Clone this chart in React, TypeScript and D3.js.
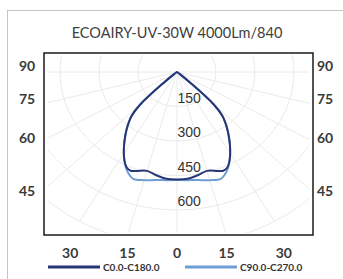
import React, { useEffect, useRef } from "react";
import * as d3 from "d3";

// photometric data, cd/klm, gamma measured from nadir
const title = "ECOAIRY-UV-30W 4000Lm/840";
const gammaAngles = [0, 5, 10, 15, 20, 22.5, 25, 27.5, 30, 32.5, 35, 37.5, 40, 42.5, 45, 47.5, 50, 55, 60, 65, 70, 75, 80, 85, 90];
const c0c180 = [467, 466, 456, 445, 458, 465, 458, 437, 409, 379, 349, 320, 290, 258, 200, 72, 16, 4, 2, 1, 1, 0, 0, 0, 0];
const c90c270 = [470, 472, 477, 487, 494, 482, 463, 437, 409, 379, 349, 320, 290, 258, 200, 72, 16, 4, 2, 1, 1, 0, 0, 0, 0];
const seriesNames = ["C0.0-C180.0", "C90.0-C270.0"];
const seriesColors = ["#283675", "#6d9fd4"];

const ringValues = [150, 300, 450, 600, 750];
const ringLabels = ["150", "300", "450", "600"];
const spokeAngles = [-90, -75, -60, -45, -30, -15, 0, 15, 30, 45, 60, 75, 90];
const sideLabels = ["90", "75", "60", "45"];
const bottomLabels = ["30", "15", "0", "15", "30"];
const bottomAngles = [-30, -15, 0, 15, 30];

const W = 343;
const H = 279;

const Chart = () => {
  const svgRef = useRef(null);

  useEffect(() => {
    const svg = d3.select(svgRef.current);
    svg.selectAll("*").remove();

    const box = { left: 44, top: 53, right: 313, bottom: 235 };
    const cx = 177,
      cy = 72;
    const rad = (a) => (a * Math.PI) / 180;

    const xs = d3.scaleLinear().domain([-750, 750]).range([cx - 750 * 0.26, cx + 750 * 0.26]);
    const ys = d3.scaleLinear().domain([-750, 750]).range([cy - 750 * 0.23, cy + 750 * 0.23]);

    // outer frame
    svg
      .append("rect")
      .attr("x", 7.5)
      .attr("y", 10.5)
      .attr("width", 360)
      .attr("height", 300)
      .attr("fill", "#fff")
      .attr("stroke", "#c4c4c4");

    svg
      .append("text")
      .attr("x", cx)
      .attr("y", 38)
      .attr("text-anchor", "middle")
      .attr("font-family", "Lato, sans-serif")
      .attr("font-size", 14.5)
      .attr("fill", "#404040")
      .text(title);

    svg
      .append("clipPath")
      .attr("id", "plotclip")
      .append("rect")
      .attr("x", box.left + 4)
      .attr("y", box.top + 2)
      .attr("width", box.right - box.left - 8)
      .attr("height", box.bottom - box.top - 4);

    const grid = svg.append("g").attr("clip-path", "url(#plotclip)");

    grid
      .selectAll(".ring")
      .data(ringValues)
      .enter()
      .append("ellipse")
      .attr("cx", cx)
      .attr("cy", cy)
      .attr("rx", (d) => xs(d) - cx)
      .attr("ry", (d) => ys(d) - cy)
      .attr("fill", "none")
      .attr("stroke", "#eaeaea");

    grid
      .selectAll(".spoke")
      .data(spokeAngles)
      .enter()
      .append("line")
      .attr("x1", cx)
      .attr("y1", cy)
      .attr("x2", (d) => xs(750 * Math.sin(rad(d))))
      .attr("y2", (d) => ys(750 * Math.cos(rad(d))))
      .attr("stroke", "#eaeaea");

    const toPoints = (vals) => {
      const pts = [];
      for (let i = gammaAngles.length - 1; i >= 0; i--) {
        const g = rad(gammaAngles[i]);
        pts.push([xs(-vals[i] * Math.sin(g)), ys(vals[i] * Math.cos(g))]);
      }
      for (let i = 1; i < gammaAngles.length; i++) {
        const g = rad(gammaAngles[i]);
        pts.push([xs(vals[i] * Math.sin(g)), ys(vals[i] * Math.cos(g))]);
      }
      return pts;
    };

    const line = d3.line().curve(d3.curveCatmullRom.alpha(0.5));

    grid
      .selectAll(".curve")
      .data([c90c270, c0c180])
      .enter()
      .append("path")
      .attr("d", (d) => line(toPoints(d)))
      .attr("fill", "none")
      .attr("stroke", (d, i) => (i === 0 ? seriesColors[1] : seriesColors[0]))
      .attr("stroke-width", 2)
      .attr("stroke-linejoin", "round");

    // ring labels
    svg
      .selectAll(".ringlabel")
      .data(ringLabels)
      .enter()
      .append("text")
      .attr("x", cx + 0.5)
      .attr("y", (d, i) => ys(ringValues[i]) - 4)
      .attr("font-family", "'Liberation Sans', Arial, sans-serif")
      .attr("font-size", 14)
      .attr("fill", "#333")
      .text((d) => d);

    svg
      .append("rect")
      .attr("x", box.left)
      .attr("y", box.top)
      .attr("width", box.right - box.left)
      .attr("height", box.bottom - box.top)
      .attr("fill", "none")
      .attr("stroke", "#1a1a1a")
      .attr("stroke-width", 1.5);

    // side angle labels
    const sideY = (a) => cy - 6 + 125 / Math.tan(rad(+a));
    [27, 325].forEach((x) => {
      svg
        .selectAll(null)
        .data(sideLabels)
        .enter()
        .append("text")
        .attr("x", x)
        .attr("y", (d) => sideY(d) + 5)
        .attr("text-anchor", "middle")
        .attr("font-family", "Lato, sans-serif")
        .attr("font-size", 14)
        .attr("font-weight", 700)
        .attr("fill", "#3a3a3a")
        .text((d) => d);
    });

    svg
      .selectAll(".bottomlabel")
      .data(bottomLabels)
      .enter()
      .append("text")
      .attr("x", (d, i) => cx + 185 * Math.tan(rad(bottomAngles[i])))
      .attr("y", 258)
      .attr("text-anchor", "middle")
      .attr("font-family", "Lato, sans-serif")
      .attr("font-size", 14)
      .attr("font-weight", 700)
      .attr("fill", "#3a3a3a")
      .text((d) => d);

    // legend
    const legend = svg
      .selectAll(".legend")
      .data(seriesNames)
      .enter()
      .append("g")
      .attr("transform", (d, i) => `translate(${i === 0 ? 48 : 185},267)`);

    legend
      .append("line")
      .attr("x1", 0)
      .attr("x2", 52)
      .attr("stroke", (d, i) => seriesColors[i])
      .attr("stroke-width", 3);

    legend
      .append("text")
      .attr("x", 55)
      .attr("y", 3.5)
      .attr("font-family", "Lato, sans-serif")
      .attr("font-size", 10)
      .attr("font-weight", 700)
      .attr("fill", "#333")
      .text((d) => d);
  }, []);

  return <svg ref={svgRef} width={W} height={H} style={{ position: "absolute", left: 0, top: 0, background: "#fff" }}></svg>;
};

export default function App() {
  return <Chart />;
}
